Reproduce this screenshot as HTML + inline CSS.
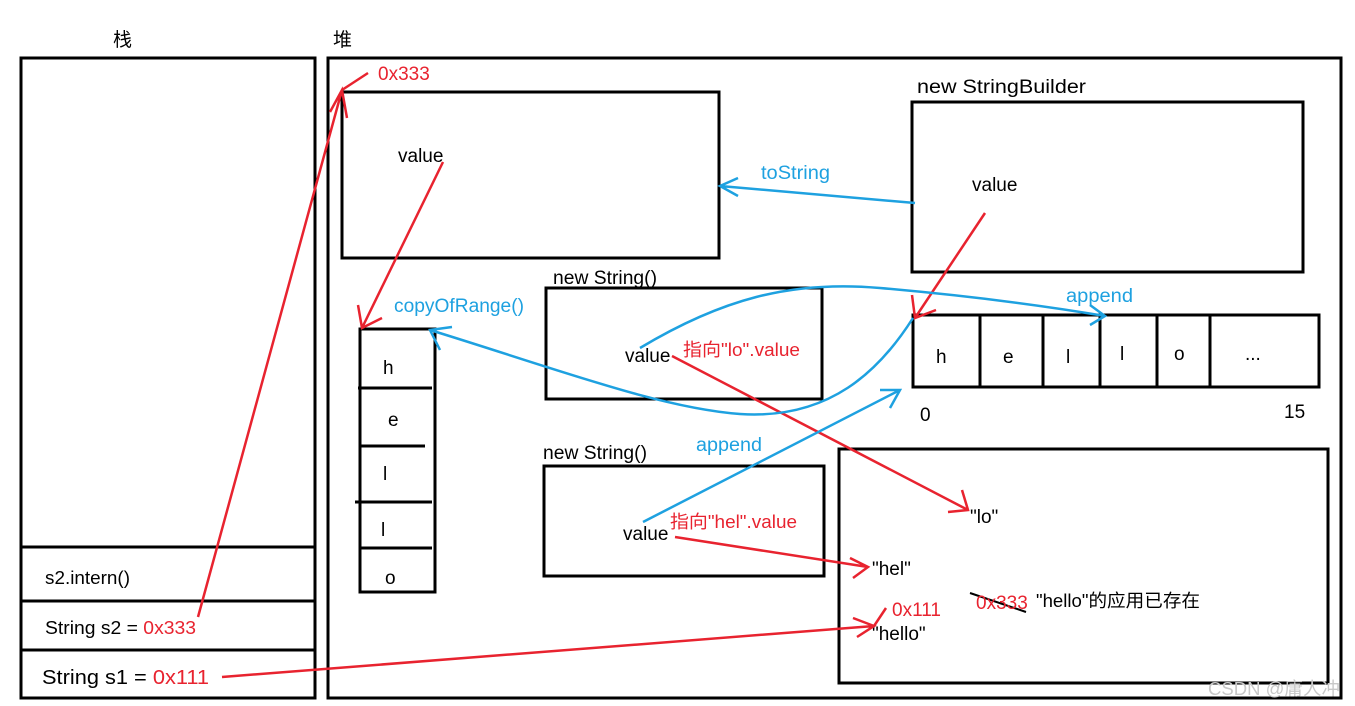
<!DOCTYPE html>
<html><head><meta charset="utf-8"><style>
html,body{margin:0;padding:0;background:#fff;width:1355px;height:706px;overflow:hidden}
text{font-family:"Liberation Sans","Noto Sans CJK SC",sans-serif}
</style></head><body>
<svg width="1355" height="706" viewBox="0 0 1355 706" xmlns="http://www.w3.org/2000/svg">
<g fill="none" stroke="#000" stroke-width="3">
<rect x="21" y="58" width="294" height="640"/>
<line x1="21" y1="547" x2="315" y2="547"/>
<line x1="21" y1="601" x2="315" y2="601"/>
<line x1="21" y1="650" x2="315" y2="650"/>
<rect x="328" y="58" width="1013" height="640"/>
<rect x="342" y="92" width="377" height="166"/>
<rect x="912" y="102" width="391" height="170"/>
<rect x="913" y="315" width="406" height="72"/>
<line x1="980" y1="315" x2="980" y2="387"/><line x1="1043" y1="315" x2="1043" y2="387"/>
<line x1="1100" y1="315" x2="1100" y2="387"/><line x1="1157" y1="315" x2="1157" y2="387"/>
<line x1="1210" y1="315" x2="1210" y2="387"/>
<rect x="546" y="288" width="276" height="111"/>
<rect x="544" y="466" width="280" height="110"/>
<rect x="360" y="329" width="75" height="263"/>
<line x1="358" y1="388" x2="432" y2="388"/><line x1="360" y1="446" x2="425" y2="446"/>
<line x1="355" y1="502" x2="432" y2="502"/><line x1="360" y1="548" x2="432" y2="548"/>
<rect x="839" y="449" width="489" height="234"/>
<line x1="970" y1="593" x2="1026" y2="612" stroke-width="2"/>
</g>
<g font-size="19" fill="#000" lengthAdjust="spacingAndGlyphs">
<text x="113" y="46">栈</text><text x="333" y="46">堆</text>
<text x="917" y="93" textLength="169" lengthAdjust="spacingAndGlyphs">new StringBuilder</text>
<text x="398" y="162">value</text>
<text x="972" y="191">value</text>
<text x="553" y="284" textLength="104" lengthAdjust="spacingAndGlyphs">new String()</text>
<text x="543" y="459" textLength="104" lengthAdjust="spacingAndGlyphs">new String()</text>
<text x="625" y="362">value</text>
<text x="623" y="540">value</text>
<text x="936" y="363">h</text><text x="1003" y="363">e</text><text x="1066" y="363">l</text>
<text x="1120" y="360">l</text><text x="1174" y="360">o</text><text x="1245" y="360">...</text>
<text x="920" y="421">0</text><text x="1284" y="418">15</text>
<text x="383" y="374">h</text><text x="388" y="426">e</text><text x="383" y="480">l</text>
<text x="381" y="536">l</text><text x="385" y="584">o</text>
<text x="970" y="523">"lo"</text><text x="872" y="575">"hel"</text><text x="872" y="640">"hello"</text>
<text x="1036" y="607" font-size="18" textLength="164" lengthAdjust="spacingAndGlyphs">"hello"的应用已存在</text>
<text x="45" y="584" font-size="18" textLength="85" lengthAdjust="spacingAndGlyphs">s2.intern()</text>
<text x="45" y="634" font-size="18" textLength="151" lengthAdjust="spacingAndGlyphs">String s2 = <tspan fill="#e8232f">0x333</tspan></text>
<text x="42" y="684" font-size="20" textLength="167" lengthAdjust="spacingAndGlyphs">String s1 = <tspan fill="#e8232f">0x111</tspan></text>
</g>
<g font-size="19" fill="#e8232f">
<text x="378" y="80">0x333</text>
<text x="683" y="356" font-size="18" textLength="117" lengthAdjust="spacingAndGlyphs">指向"lo".value</text>
<text x="670" y="528" font-size="18" textLength="127" lengthAdjust="spacingAndGlyphs">指向"hel".value</text>
<text x="892" y="616">0x111</text>
<text x="976" y="609">0x333</text>
</g>
<g font-size="19" fill="#1ea1e0">
<text x="761" y="179" textLength="69" lengthAdjust="spacingAndGlyphs">toString</text>
<text x="394" y="312" textLength="130" lengthAdjust="spacingAndGlyphs">copyOfRange()</text>
<text x="1066" y="302" textLength="67" lengthAdjust="spacingAndGlyphs">append</text>
<text x="696" y="451" textLength="66" lengthAdjust="spacingAndGlyphs">append</text>
</g>
<g fill="none" stroke="#e8232f" stroke-width="2.5">
<path d="M198 617 L342 90 M330 112 L342 90 L347 118 M342 90 L368 73"/>
<path d="M443 162 L362 328 M358 305 L362 328 L382 318"/>
<path d="M985 213 L915 318 M912 295 L915 318 L936 310"/>
<path d="M672 356 L968 510 M948 512 L968 510 L962 490"/>
<path d="M675 537 L868 567 M850 558 L868 567 L853 578"/>
<path d="M222 677 L874 626 M853 618 L874 626 L857 637 M874 626 L886 608"/>
</g>
<g fill="none" stroke="#1ea1e0" stroke-width="2.5">
<path d="M915 203 L720 186 M738 178 L720 186 L738 196"/>
<path d="M913 318 C880 370 830 420 740 414 C660 408 560 370 430 330 M440 350 L430 330 L452 327"/>
<path d="M640 348 C720 300 790 280 880 288 C960 295 1040 305 1105 316 M1090 305 L1105 316 L1090 325"/>
<path d="M643 522 L900 390 M880 390 L900 390 L890 408"/>
</g>
<text x="1208" y="695" font-size="18" fill="#c8c8c8" textLength="132" lengthAdjust="spacingAndGlyphs">CSDN @庸人冲</text>
</svg>
</body></html>
